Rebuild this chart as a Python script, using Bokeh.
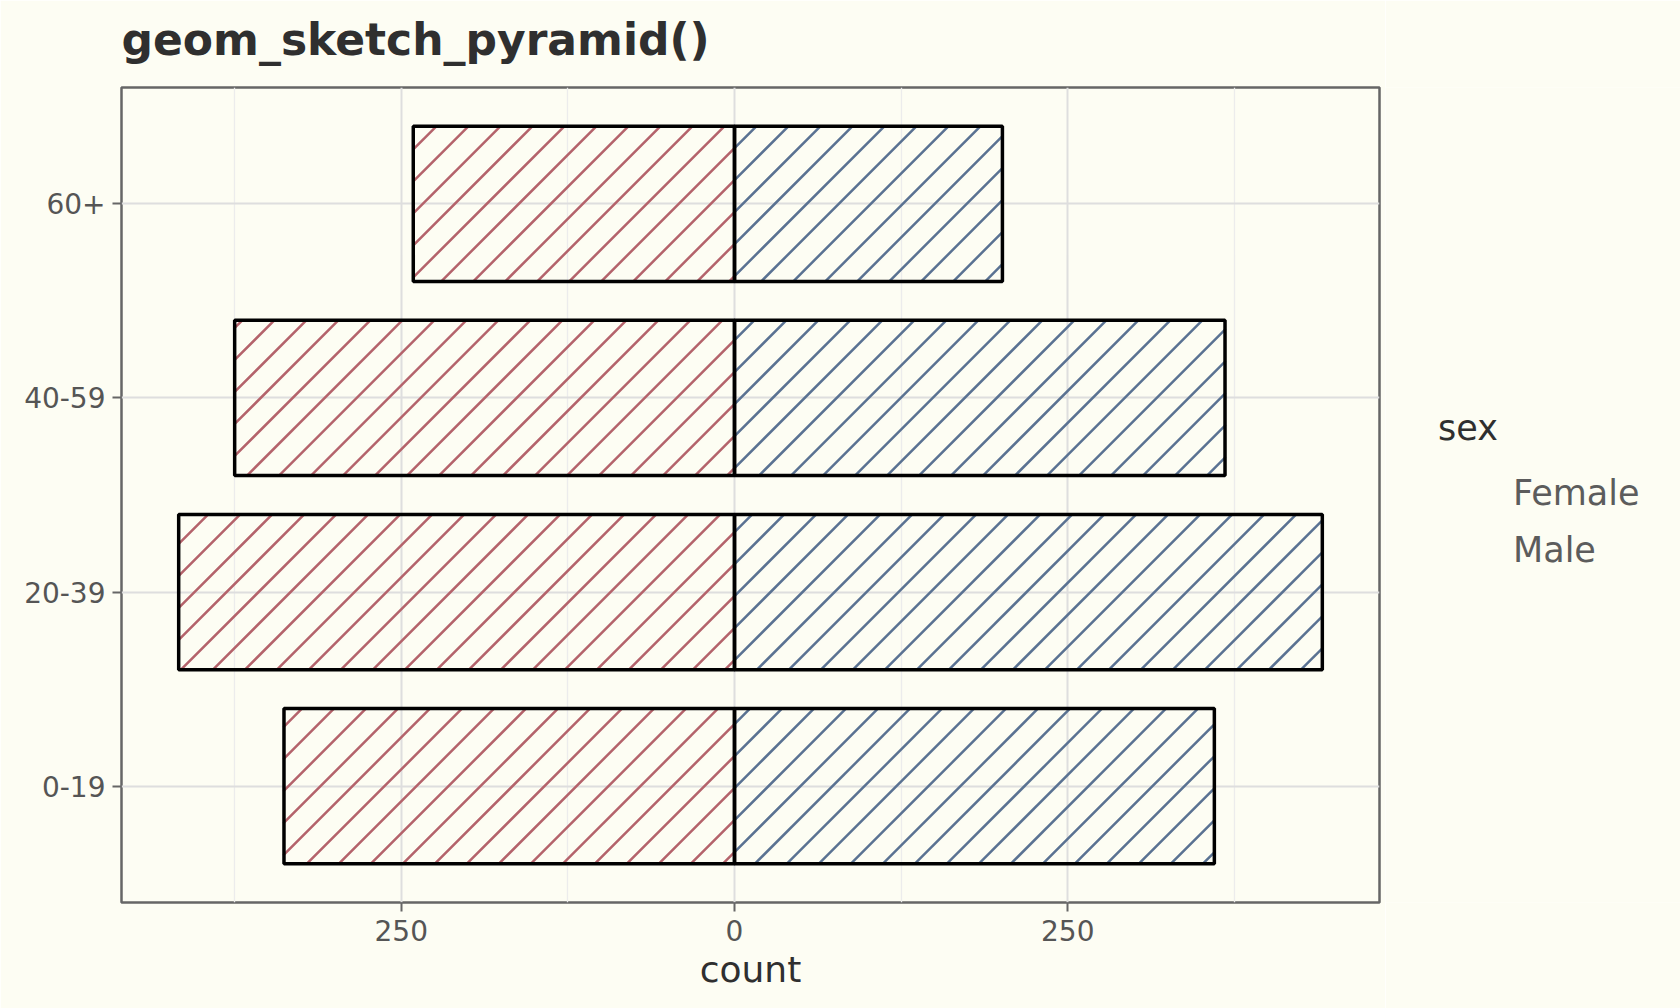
import numpy as np
from bokeh.plotting import figure
from bokeh.layouts import row
from bokeh.models import (ColumnDataSource, Range1d, FixedTicker,
                          Legend, LegendItem, Title, CDSView, IndexFilter)
from bokeh.embed import file_html
from bokeh.resources import INLINE

# ---- data -------------------------------------------------------------
age_groups = ["0-19", "20-39", "40-59", "60+"]
female_counts = [338, 417, 375, 241]
male_counts = [360, 441, 368, 201]
sexes = ["Female", "Male"]
sex_colors = ["#B4636B", "#5A7292"]
x_tick_values = [-250, 0, 250]
x_tick_labels = ["250", "0", "250"]
x_minor_values = [-375, -125, 125, 375]

# ---- layout / style ----------------------------------------------------
BG = "#FDFDF3"
FONT = "DejaVu Sans"
MAIN_W, LEG_W, FIG_H = 1385, 295, 1008
B_LEFT, B_RIGHT, B_TOP, B_BOTTOM = 121, 6, 87, 106
BAR_H = 0.8
HATCH_STEP = 32.0

y_pos = [i + 1 for i in range(len(age_groups))]
lo = -max(female_counts)
hi = max(male_counts)
pad = 0.05 * (hi - lo)
x_lo, x_hi = lo - pad, hi + pad
y_lo, y_hi = 0.4, len(age_groups) + 0.6

frame_w = MAIN_W - B_LEFT - B_RIGHT
frame_h = FIG_H - B_TOP - B_BOTTOM
kx = frame_w / (x_hi - x_lo)
ky = frame_h / (y_hi - y_lo)


def hatch_lines(lefts, rights, ys):
    """45-degree (on screen) hatch segments clipped to each bar."""
    out = dict(x0=[], y0=[], x1=[], y1=[])
    for l, r, yc in zip(lefts, rights, ys):
        X0, X1 = l * kx, r * kx
        Y0, Y1 = (yc - BAR_H / 2) * ky, (yc + BAR_H / 2) * ky
        c0 = np.ceil((Y0 - X1) / HATCH_STEP) * HATCH_STEP
        for c in np.arange(c0, Y1 - X0, HATCH_STEP):
            xa = max(X0, Y0 - c)
            xb = min(X1, Y1 - c)
            if xb - xa > 2:
                out["x0"].append(xa / kx)
                out["y0"].append((xa + c) / ky)
                out["x1"].append(xb / kx)
                out["y1"].append((xb + c) / ky)
    return out


p = figure(
    width=MAIN_W, height=FIG_H,
    x_range=Range1d(x_lo, x_hi), y_range=Range1d(y_lo, y_hi),
    output_backend="svg", toolbar_location=None,
    title="geom_sketch_pyramid()",
    min_border_left=B_LEFT, min_border_right=B_RIGHT,
    min_border_top=B_TOP, min_border_bottom=B_BOTTOM,
)

p.background_fill_color = BG
p.border_fill_color = BG
p.outline_line_color = "#666666"
p.outline_line_width = 2.5

p.title.text_font = FONT
p.title.text_font_size = "44px"
p.title.text_font_style = "bold"
p.title.text_color = "#2F2F2F"
p.title.align = "left"
p.title.standoff = 2
# small spacer between the title and the panel
p.add_layout(Title(text=" ", text_font_size="1px", standoff=19), "above")

female_left = [-v for v in female_counts]
female_right = [0] * len(female_counts)
male_left = [0] * len(male_counts)
male_right = list(male_counts)

# hatch
p.segment(source=ColumnDataSource(hatch_lines(female_left, female_right, y_pos)),
          x0="x0", y0="y0", x1="x1", y1="y1",
          line_color=sex_colors[0], line_width=2.5, line_cap="round")
p.segment(source=ColumnDataSource(hatch_lines(male_left, male_right, y_pos)),
          x0="x0", y0="y0", x1="x1", y1="y1",
          line_color=sex_colors[1], line_width=2.5, line_cap="round")

# bar outlines
outline = dict(height=BAR_H, fill_color=None, line_color="black", line_width=3.5)
p.hbar(y=y_pos, left=female_left, right=female_right, **outline)
p.hbar(y=y_pos, left=male_left, right=male_right, **outline)

# axes
p.xaxis.ticker = FixedTicker(ticks=x_tick_values, minor_ticks=x_minor_values)
p.xaxis.major_label_overrides = {v: l for v, l in zip(x_tick_values, x_tick_labels)}
p.yaxis.ticker = FixedTicker(ticks=y_pos, minor_ticks=[])
p.yaxis.major_label_overrides = {v: l for v, l in zip(y_pos, age_groups)}
p.xaxis.axis_label = "count"
for ax in (p.xaxis, p.yaxis):
    ax.axis_line_color = None
    ax.major_tick_line_color = "#666666"
    ax.major_tick_line_width = 2
    ax.major_tick_in = 0
    ax.major_tick_out = 9
    ax.minor_tick_line_color = None
    ax.major_label_text_font = FONT
    ax.major_label_text_font_size = "28px"
    ax.major_label_text_color = "#555555"
    ax.axis_label_text_font = FONT
    ax.axis_label_text_font_size = "36px"
    ax.axis_label_text_font_style = "normal"
    ax.axis_label_text_color = "#2F2F2F"
p.xaxis.major_label_standoff = 8
p.xaxis.axis_label_standoff = 5
p.yaxis.major_label_standoff = 7

# grid
p.xgrid.grid_line_color = "#DEDEDE"
p.xgrid.grid_line_width = 2
p.xgrid.minor_grid_line_color = "#ECECEC"
p.xgrid.minor_grid_line_width = 1.3
p.ygrid.grid_line_color = "#DEDEDE"
p.ygrid.grid_line_width = 2

# ---- legend panel (separate figure on the right) -----------------------
# its renderers draw no bars (empty view, ranges away from the data);
# they only supply the legend keys
pl = figure(width=LEG_W, height=FIG_H,
            x_range=Range1d(-1500, -500), y_range=Range1d(-20, -10),
            output_backend="svg", toolbar_location=None,
            x_axis_type=None, y_axis_type=None, min_border=0)
pl.background_fill_color = BG
pl.border_fill_color = BG
pl.outline_line_color = None
pl.grid.visible = False

key = dict(height=BAR_H, fill_color=None, line_color="black", line_width=3.5,
           hatch_pattern="right_diagonal_dash", hatch_scale=54, hatch_weight=2.5)
src_f = ColumnDataSource(dict(y=y_pos, left=female_left, right=female_right))
src_m = ColumnDataSource(dict(y=y_pos, left=male_left, right=male_right))
k_f = pl.hbar(y="y", left="left", right="right", source=src_f,
              view=CDSView(filter=IndexFilter(indices=[])),
              hatch_color=sex_colors[0], **key)
k_m = pl.hbar(y="y", left="left", right="right", source=src_m,
              view=CDSView(filter=IndexFilter(indices=[])),
              hatch_color=sex_colors[1], **key)

legend = Legend(
    items=[LegendItem(label=sexes[0], renderers=[k_f]),
           LegendItem(label=sexes[1], renderers=[k_m])],
    title="sex", location=(53, 325),
    background_fill_alpha=0, border_line_color=None,
    padding=0, margin=0, glyph_width=54, glyph_height=54,
    label_standoff=21, spacing=3, label_height=54,
    label_text_font=FONT, label_text_font_size="35px",
    label_text_color="#5C5C5C",
    title_text_font=FONT, title_text_font_size="35px",
    title_text_font_style="normal", title_text_color="#2F2F2F",
    title_standoff=18,
)
pl.add_layout(legend)

layout = row(p, pl, spacing=0)
open("out.html", "w").write(file_html(layout, INLINE))
